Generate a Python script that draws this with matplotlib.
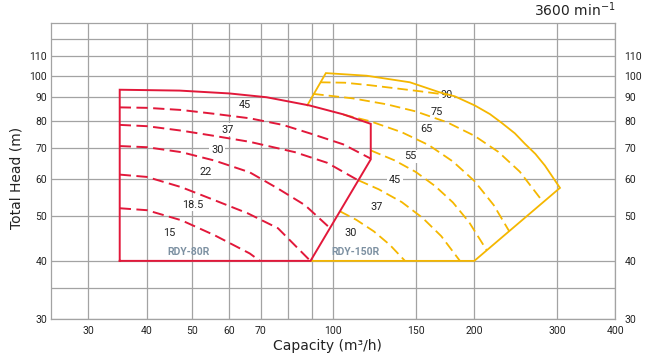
import matplotlib
matplotlib.use("Agg")
import matplotlib.pyplot as plt
from matplotlib.ticker import FixedLocator, FixedFormatter, NullLocator

# ---------------- data ----------------
x_ticks = [30, 40, 50, 60, 70, 80, 90, 100, 150, 200, 300, 400]
x_tick_labels = ["30", "40", "50", "60", "70", "", "", "100", "150", "200", "300", "400"]
y_ticks = [30, 35, 40, 50, 60, 70, 80, 90, 100, 110, 120]
y_tick_labels = ["30", "", "40", "50", "60", "70", "80", "90", "100", "110", ""]

# RDY-80R envelope (red, solid)
red_env_x = [35, 35, 47, 60, 72, 89, 105, 120.2, 120.2, 89.4, 35]
red_env_y = [40, 93.3, 92.9, 91.6, 89.9, 86.3, 82.6, 78.8, 66.1, 40, 40]

# RDY-80R impeller curves (red, dashed)
red_d1_x = [35, 40, 47.4, 55.8, 66.3, 78, 89.8, 105, 120]
red_d1_y = [85.5, 85.3, 84.4, 82.8, 81.0, 78.4, 75.0, 71.2, 66.4]
red_d2_x = [35, 40, 47.4, 55, 66.3, 82.8, 97, 112.3]
red_d2_y = [78.4, 77.9, 76.2, 74.4, 72.1, 68.5, 65.0, 59.8]
red_d3_x = [35, 40, 47.4, 55.8, 66.3, 76.2, 87, 97.8]
red_d3_y = [70.6, 70.2, 68.5, 65.7, 62.0, 57.2, 52.7, 47.3]
red_d4_x = [35, 40, 47.4, 55.8, 65.7, 76.2, 89.1]
red_d4_y = [61.3, 60.6, 57.6, 54.0, 50.6, 47.0, 40.1]
red_d5_x = [35, 40, 47.4, 55.8, 66.3, 69.7]
red_d5_y = [51.9, 51.4, 48.9, 45.4, 41.5, 40.0]

# RDY-150R envelope (yellow, solid)
yel_env_x = [88, 96.4, 117.8, 145.7, 168.7, 181.7, 200.5, 215.9, 228.7, 244, 256.4,
             270, 282.9, 304.6, 200, 89.4]
yel_env_y = [86.4, 101.3, 100.0, 96.8, 92.1, 90.3, 86.3, 82.7, 79.2, 75.2, 71.4,
             67.9, 64.1, 57.4, 40, 40]

# RDY-150R impeller curves (yellow, dashed)
yel_d1_x = [93.7, 105.8, 119.7, 135.3, 153, 174.5]
yel_d1_y = [96.8, 96.6, 95.4, 94.0, 92.6, 91.0]
yel_d2_x = [90.6, 110, 130, 150, 175, 200, 225, 250, 280.5]
yel_d2_y = [91.4, 89.4, 86.8, 83.8, 79.4, 74.3, 68.6, 62.2, 53.5]
yel_d3_x = [105, 120, 140, 160, 180, 200, 220, 237.4]
yel_d3_y = [82.5, 79.8, 75.6, 70.9, 65.4, 59.4, 52.7, 46.3]
yel_d4_x = [120.2, 135, 150, 165, 180, 195, 212.4]
yel_d4_y = [69.1, 65.8, 62.1, 57.9, 53.4, 48.4, 42.2]
yel_d5_x = [113.1, 125, 140, 155, 170, 186.3]
yel_d5_y = [59.6, 57.0, 53.5, 49.5, 45.2, 40.0]
yel_d6_x = [103.4, 112, 122, 132, 142.2]
yel_d6_y = [51.1, 49.0, 46.3, 43.3, 40.0]

red_labels = ["45", "37", "30", "22", "18.5", "15"]
red_label_x = [64.7, 59.4, 56.5, 53.4, 50.2, 44.6]
red_label_y = [86.3, 76.6, 69.4, 62.1, 52.8, 45.9]
yel_labels = ["90", "75", "65", "55", "45", "37", "30"]
yel_label_x = [174.5, 166.1, 158.2, 145.7, 135.3, 124.0, 108.8]
yel_label_y = [91.1, 83.7, 76.8, 67.1, 59.6, 52.1, 46.0]
model_names = ["RDY-80R", "RDY-150R"]
model_x = [49.1, 111.4]
model_y = [41.8, 41.8]

# ---------------- style ----------------
RED = "#E2183A"
YEL = "#F5B700"
GRID = "#A3A3A3"
MODEL = "#7D91A2"
NUMF = ["Roboto", "DejaVu Sans"]

fig = plt.figure(figsize=(6.5, 3.55), dpi=100)
L, R, T, B = 51.25, 615.4, 22.7, 319.0
ax = fig.add_axes([L / 650, 1 - B / 355, (R - L) / 650, (B - T) / 355])
ax.set_xscale("log")
ax.set_yscale("log")
ax.set_xlim(25, 400)
ax.set_ylim(30, 130)

ax.xaxis.set_major_locator(FixedLocator(x_ticks))
ax.xaxis.set_major_formatter(FixedFormatter(x_tick_labels))
ax.xaxis.set_minor_locator(NullLocator())
ax.yaxis.set_major_locator(FixedLocator(y_ticks))
ax.yaxis.set_major_formatter(FixedFormatter(y_tick_labels))
ax.yaxis.set_minor_locator(NullLocator())
ax.tick_params(axis="both", length=0, labelsize=7.5, colors="#222222")
ax.tick_params(axis="x", pad=5)
ax.tick_params(axis="y", pad=3)
for lab in ax.get_xticklabels() + ax.get_yticklabels():
    lab.set_family(NUMF)
ax.grid(True, color=GRID, lw=0.9, zorder=0)
ax.set_axisbelow(True)
for s in ax.spines.values():
    s.set_color(GRID)
    s.set_linewidth(0.9)

ax2 = ax.twinx()
ax2.set_yscale("log")
ax2.set_ylim(30, 130)
ax2.yaxis.set_major_locator(FixedLocator(y_ticks))
ax2.yaxis.set_major_formatter(FixedFormatter(y_tick_labels))
ax2.yaxis.set_minor_locator(NullLocator())
ax2.tick_params(axis="y", length=0, labelsize=7.5, colors="#222222", pad=6.5)
for lab in ax2.get_yticklabels():
    lab.set_family(NUMF)
for s in ax2.spines.values():
    s.set_visible(False)

# yellow first (under red)
dash = (5.8, 2.8)
ax.plot(yel_env_x, yel_env_y, color=YEL, lw=1.3, zorder=3, solid_joinstyle="miter")
for xs, ys in [(yel_d1_x, yel_d1_y), (yel_d2_x, yel_d2_y), (yel_d3_x, yel_d3_y),
               (yel_d4_x, yel_d4_y), (yel_d5_x, yel_d5_y), (yel_d6_x, yel_d6_y)]:
    ax.plot(xs, ys, color=YEL, lw=1.3, dashes=dash, zorder=3)

ax.plot(red_env_x, red_env_y, color=RED, lw=1.4, zorder=4, solid_joinstyle="miter")
for xs, ys in [(red_d1_x, red_d1_y), (red_d2_x, red_d2_y), (red_d3_x, red_d3_y),
               (red_d4_x, red_d4_y), (red_d5_x, red_d5_y)]:
    ax.plot(xs, ys, color=RED, lw=1.4, dashes=dash, zorder=4)

bb = dict(boxstyle="square,pad=0.15", fc="white", ec="none")
for t, x, y in zip(red_labels + yel_labels, red_label_x + yel_label_x, red_label_y + yel_label_y):
    ax.text(x, y, t, ha="center", va="center", fontsize=7.8, family=NUMF,
            color="#222222", bbox=bb, zorder=2.5)
for t, x, y in zip(model_names, model_x, model_y):
    ax.text(x, y, t, ha="center", va="center", fontsize=7.5, family=NUMF,
            fontweight="bold", color=MODEL, zorder=2.5)

fig.text(R / 650, 1 - 10 / 355, "3600 min$^{-1}$", ha="right", va="center",
         fontsize=10, color="#222222")
fig.text(327 / 650, 1 - 346 / 355, "Capacity (m³/h)", ha="center", va="center",
         fontsize=10, color="#222222")
fig.text(17 / 650, 1 - 178 / 355, "Total Head (m)", ha="center", va="center",
         rotation=90, fontsize=10, color="#222222")

fig.savefig("out.png", dpi=100)
